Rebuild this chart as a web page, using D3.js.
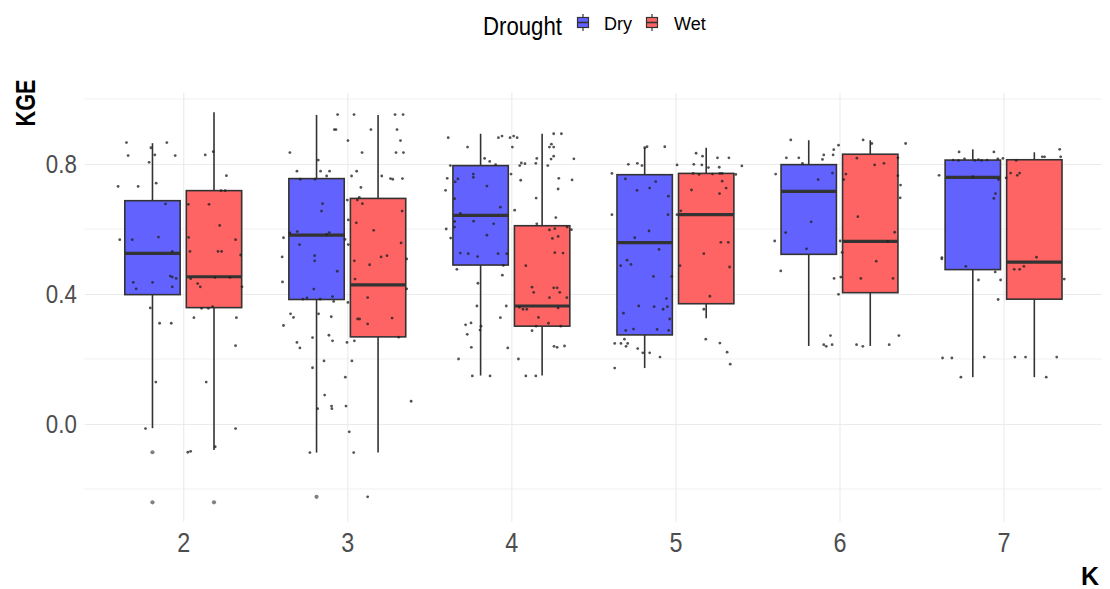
<!DOCTYPE html>
<html>
<head>
<meta charset="utf-8">
<script src="https://cdn.jsdelivr.net/npm/d3@7"></script>
<style>
  html, body { margin: 0; padding: 0; background: #ffffff; }
  svg { display: block; font-family: "Liberation Sans", Arial, sans-serif; }
</style>
</head>
<body>
<svg id="chart" width="1110" height="589"></svg>
<script>
// ---------------- DATA ----------------
const categories = ["2", "3", "4", "5", "6", "7"];
const groups = ["Dry", "Wet"];
const yTicks = [0.0, 0.4, 0.8];
const yMinorTicks = [-0.2, 0.2, 0.6, 1.0];

// [lower whisker, Q1, median, Q3, upper whisker]
const dryStats = [
  [-0.013, 0.398, 0.525, 0.687, 0.864],
  [-0.088, 0.383, 0.581, 0.755, 0.951],
  [0.149, 0.489, 0.642, 0.795, 0.893],
  [0.172, 0.274, 0.558, 0.767, 0.850],
  [0.240, 0.522, 0.716, 0.798, 0.873],
  [0.144, 0.475, 0.759, 0.812, 0.845]
];
const wetStats = [
  [-0.080, 0.358, 0.453, 0.718, 0.959],
  [-0.088, 0.268, 0.428, 0.694, 0.951],
  [0.149, 0.301, 0.363, 0.610, 0.893],
  [0.325, 0.370, 0.644, 0.771, 0.850],
  [0.240, 0.404, 0.562, 0.830, 0.873],
  [0.144, 0.384, 0.498, 0.813, 0.836]
];
const dryOutliers = [[-0.087, -0.241], [-0.224], [], [], [], []];
const wetOutliers = [[-0.241], [], [], [], [], []];

// jittered observations: [offset from category (in category units), KGE]
const jitterK2 = [[-0.346,0.866],[-0.100,0.866],[-0.197,0.850],[-0.336,0.826],[-0.173,0.828],[-0.049,0.826],[-0.208,0.805],[-0.397,0.731],[-0.275,0.731],[-0.165,0.741],[-0.108,0.677],[-0.387,0.567],[-0.311,0.567],[-0.151,0.575],[-0.067,0.531],[-0.079,0.455],[-0.067,0.452],[-0.043,0.448],[-0.305,0.436],[-0.287,0.416],[-0.187,0.436],[-0.067,0.422],[-0.201,0.357],[-0.144,0.310],[-0.073,0.310],[-0.167,0.129],[-0.230,-0.014],
  [0.134,0.828],[0.183,0.838],[0.263,0.764],[0.230,0.718],[0.256,0.718],[0.031,0.676],[0.157,0.676],[0.222,0.611],[0.033,0.574],[0.319,0.567],[0.041,0.531],[0.212,0.531],[0.234,0.531],[0.350,0.520],[0.045,0.447],[0.193,0.451],[0.285,0.451],[0.088,0.432],[0.104,0.422],[0.358,0.422],[0.112,0.356],[0.153,0.356],[0.179,0.361],[0.065,0.327],[0.324,0.327],[0.319,0.241],[0.140,0.129],[0.319,-0.014],[0.028,-0.087],[0.045,-0.084],[0.195,-0.070]];
const jitterK3 = [[-0.059,0.952],[0.041,0.952],[0.291,0.952],[0.340,0.952],[-0.079,0.906],[-0.069,0.906],[0.144,0.906],[0.303,0.906],[0.004,0.872],[0.324,0.872],[-0.350,0.835],[0.090,0.835],[0.297,0.835],[0.342,0.835],[-0.177,0.812],[-0.307,0.778],[-0.163,0.778],[-0.108,0.778],[0.057,0.778],[-0.126,0.763],[0.026,0.763],[0.210,0.763],[0.263,0.755],[0.277,0.753],[0.336,0.755],[-0.287,0.753],[-0.197,0.753],[0.083,0.728],[0.000,0.689],[0.061,0.689],[0.073,0.697],[0.092,0.678],[-0.151,0.678],[-0.157,0.655],[0.334,0.655],[0.055,0.619],[0.161,0.596],[0.006,0.628],[-0.389,0.573],[-0.350,0.588],[-0.305,0.592],[-0.110,0.589],[-0.126,0.583],[-0.014,0.568],[-0.291,0.552],[0.006,0.552],[0.328,0.557],[-0.397,0.514],[-0.199,0.518],[-0.199,0.502],[0.242,0.518],[0.206,0.514],[0.043,0.502],[0.362,0.508],[0.136,0.490],[-0.061,0.470],[-0.395,0.437],[0.047,0.446],[-0.204,0.415],[0.362,0.416],[-0.271,0.384],[-0.246,0.388],[-0.165,0.384],[-0.090,0.392],[-0.083,0.377],[0.124,0.389],[0.004,0.374],[-0.346,0.339],[-0.175,0.339],[-0.328,0.328],[-0.098,0.330],[-0.389,0.303],[0.063,0.323],[0.075,0.323],[0.273,0.326],[0.124,0.308],[-0.212,0.266],[-0.112,0.273],[-0.090,0.256],[-0.307,0.251],[-0.289,0.234],[-0.002,0.251],[0.043,0.256],[0.313,0.267],[-0.142,0.194],[0.028,0.194],[-0.212,0.173],[-0.012,0.144],[-0.138,0.089],[0.389,0.070],[-0.181,0.047],[-0.096,0.055],[-0.094,0.047],[-0.008,0.055],[0.012,-0.024],[-0.228,-0.088],[0.039,-0.088],[0.124,-0.224]];
const jitterK4 = [[-0.385,0.881],[-0.267,0.852],[-0.079,0.881],[-0.057,0.886],[-0.008,0.881],[0.014,0.886],[0.035,0.881],[0.006,0.852],[0.258,0.893],[0.305,0.893],[0.232,0.852],[0.244,0.861],[0.258,0.852],[-0.163,0.817],[-0.132,0.808],[-0.096,0.798],[-0.372,0.795],[0.051,0.795],[0.061,0.803],[0.083,0.801],[0.149,0.802],[0.155,0.817],[0.222,0.795],[0.242,0.815],[0.258,0.824],[0.381,0.816],[-0.002,0.769],[0.057,0.750],[-0.391,0.756],[-0.342,0.745],[-0.326,0.754],[-0.232,0.769],[-0.232,0.759],[0.289,0.756],[0.370,0.751],[-0.401,0.719],[0.285,0.723],[-0.149,0.732],[-0.346,0.693],[0.151,0.695],[-0.067,0.667],[0.020,0.658],[-0.311,0.648],[-0.346,0.623],[-0.346,0.606],[-0.230,0.624],[-0.108,0.616],[-0.397,0.600],[-0.370,0.572],[-0.149,0.581],[0.271,0.635],[0.155,0.616],[0.232,0.597],[0.265,0.601],[0.250,0.571],[0.285,0.577],[0.340,0.606],[0.366,0.598],[-0.311,0.526],[-0.263,0.524],[-0.206,0.515],[-0.081,0.524],[-0.028,0.524],[-0.049,0.488],[0.088,0.487],[-0.332,0.476],[-0.055,0.458],[-0.204,0.433],[0.265,0.527],[0.315,0.526],[0.126,0.421],[0.136,0.405],[0.258,0.419],[0.279,0.419],[0.295,0.405],[0.232,0.389],[0.338,0.389],[-0.210,0.363],[-0.031,0.363],[0.049,0.359],[0.071,0.353],[0.094,0.353],[0.285,0.357],[-0.067,0.327],[0.165,0.328],[-0.279,0.305],[-0.246,0.311],[-0.269,0.276],[-0.185,0.301],[-0.191,0.289],[0.226,0.310],[0.151,0.301],[0.301,0.301],[0.126,0.287],[-0.244,0.236],[-0.022,0.234],[0.260,0.239],[0.279,0.236],[0.324,0.240],[-0.322,0.200],[0.043,0.200],[-0.238,0.148],[-0.130,0.148],[0.088,0.148],[0.149,0.148]];
const jitterK5 = [[-0.187,0.850],[-0.173,0.853],[-0.065,0.853],[-0.287,0.799],[-0.232,0.802],[-0.204,0.795],[0.010,0.797],[-0.387,0.771],[-0.305,0.754],[-0.234,0.719],[-0.157,0.726],[-0.120,0.746],[-0.043,0.701],[-0.387,0.644],[-0.045,0.644],[-0.248,0.573],[-0.161,0.594],[-0.100,0.537],[-0.334,0.487],[-0.295,0.504],[-0.271,0.491],[-0.134,0.454],[-0.022,0.454],[-0.055,0.386],[-0.224,0.363],[-0.130,0.361],[-0.075,0.353],[-0.049,0.361],[-0.317,0.341],[-0.035,0.323],[-0.303,0.288],[-0.256,0.292],[-0.112,0.291],[-0.041,0.288],[-0.370,0.248],[-0.332,0.248],[-0.311,0.261],[-0.291,0.248],[-0.301,0.239],[-0.230,0.232],[-0.199,0.219],[-0.157,0.219],[-0.094,0.206],[-0.370,0.172],
  [0.126,0.833],[0.165,0.824],[0.256,0.819],[0.326,0.819],[0.112,0.799],[0.161,0.797],[0.201,0.789],[0.267,0.790],[0.405,0.794],[0.108,0.771],[0.144,0.768],[0.226,0.769],[0.271,0.771],[0.285,0.771],[0.368,0.768],[0.285,0.747],[0.098,0.720],[0.309,0.726],[0.269,0.709],[0.033,0.656],[0.010,0.644],[0.277,0.559],[0.322,0.559],[0.173,0.524],[0.028,0.487],[0.330,0.483],[0.210,0.393],[0.173,0.353],[0.185,0.261],[0.271,0.249],[0.315,0.221],[0.334,0.184]];
const jitterK6 = [[-0.297,0.874],[-0.324,0.819],[-0.248,0.819],[-0.226,0.802],[-0.104,0.814],[-0.096,0.828],[-0.039,0.828],[-0.035,0.844],[-0.006,0.858],[-0.389,0.769],[-0.043,0.772],[-0.130,0.752],[-0.173,0.622],[-0.328,0.589],[-0.395,0.563],[-0.201,0.539],[-0.358,0.471],[-0.033,0.448],[0.008,0.452],[-0.006,0.399],[0.004,0.563],[0.016,0.528],[-0.055,0.272],[-0.096,0.244],[-0.081,0.239],[-0.045,0.244],
  [0.144,0.874],[0.197,0.863],[0.403,0.863],[0.106,0.818],[0.214,0.797],[0.271,0.802],[0.356,0.819],[0.039,0.769],[0.026,0.752],[0.356,0.764],[0.372,0.735],[0.370,0.696],[0.112,0.638],[0.336,0.590],[0.293,0.562],[0.224,0.501],[0.130,0.448],[0.326,0.448],[0.104,0.244],[0.142,0.239],[0.303,0.244],[0.362,0.272]];
const jitterK7 = [[-0.271,0.837],[-0.059,0.837],[-0.307,0.812],[-0.275,0.811],[-0.238,0.816],[-0.175,0.811],[-0.153,0.813],[-0.134,0.811],[-0.100,0.812],[-0.035,0.816],[-0.004,0.817],[-0.393,0.765],[-0.187,0.761],[-0.031,0.752],[-0.049,0.709],[-0.059,0.694],[-0.376,0.512],[-0.376,0.508],[-0.230,0.485],[-0.051,0.468],[-0.153,0.443],[-0.018,0.443],[-0.033,0.383],[-0.372,0.203],[-0.315,0.203],[-0.118,0.206],[-0.260,0.144],
  [0.342,0.845],[0.236,0.822],[0.250,0.822],[0.348,0.822],[0.077,0.811],[0.016,0.757],[0.043,0.772],[0.084,0.765],[0.098,0.772],[0.201,0.513],[0.065,0.476],[0.098,0.476],[0.124,0.485],[0.370,0.446],[0.069,0.206],[0.134,0.206],[0.324,0.206],[0.260,0.144]];
const jitterByCategory = [jitterK2, jitterK3, jitterK4, jitterK5, jitterK6, jitterK7];

// ---------------- LAYOUT / STYLE ----------------
const colors = { Dry: "#6262ff", Wet: "#ff6464" };
const panel = { left: 84.8, right: 1102, top: 92.8, bottom: 521.8 };
const svg = d3.select("#chart");

const x = d3.scalePoint().domain(categories).range([panel.left, panel.right]).padding(0.6);
const step = x.step();
const y = d3.scaleLinear().domain([-0.301, 1.019]).range([panel.bottom, panel.top]);
const dodge = d3.scaleBand().domain(groups).range([-0.375 * step, 0.375 * step]);
const boxW = 0.3375 * step;
const gcenter = (cat, g) => x(cat) + dodge(g) + dodge.bandwidth() / 2;

// grid
const grid = svg.append("g");
grid.selectAll("line.minor").data(yMinorTicks).join("line")
  .attr("x1", panel.left).attr("x2", panel.right)
  .attr("y1", d => y(d)).attr("y2", d => y(d))
  .attr("stroke", "#ebebeb").attr("stroke-width", 0.8);
grid.append("g").attr("transform", `translate(${panel.left},0)`)
  .call(d3.axisLeft(y).tickValues(yTicks).tickSize(-(panel.right - panel.left)).tickFormat(""))
  .call(g => g.select(".domain").remove())
  .call(g => g.selectAll("line").attr("stroke", "#ebebeb").attr("stroke-width", 1.1));
grid.append("g").attr("transform", `translate(0,${panel.bottom})`)
  .call(d3.axisBottom(x).tickSize(-(panel.bottom - panel.top)).tickFormat(""))
  .call(g => g.select(".domain").remove())
  .call(g => g.selectAll("line").attr("stroke", "#ebebeb").attr("stroke-width", 1.1));

// boxes
const statsByGroup = { Dry: dryStats, Wet: wetStats };
const outByGroup = { Dry: dryOutliers, Wet: wetOutliers };
const boxes = svg.append("g");
groups.forEach(g => {
  categories.forEach((cat, i) => {
    const [lw, q1, med, q3, uw] = statsByGroup[g][i];
    const cx = gcenter(cat, g);
    const bg = boxes.append("g");
    bg.append("line").attr("x1", cx).attr("x2", cx).attr("y1", y(uw)).attr("y2", y(q3))
      .attr("stroke", "#333333").attr("stroke-width", 1.6);
    bg.append("line").attr("x1", cx).attr("x2", cx).attr("y1", y(q1)).attr("y2", y(lw))
      .attr("stroke", "#333333").attr("stroke-width", 1.6);
    bg.append("rect").attr("x", cx - boxW / 2).attr("width", boxW)
      .attr("y", y(q3)).attr("height", y(q1) - y(q3))
      .attr("fill", colors[g]).attr("stroke", "#333333").attr("stroke-width", 1.6);
    bg.append("line").attr("x1", cx - boxW / 2).attr("x2", cx + boxW / 2)
      .attr("y1", y(med)).attr("y2", y(med))
      .attr("stroke", "#333333").attr("stroke-width", 3.2);
    bg.selectAll("circle").data(outByGroup[g][i]).join("circle")
      .attr("cx", cx).attr("cy", d => y(d)).attr("r", 2.1)
      .attr("fill", "#555555").attr("fill-opacity", 0.75);
  });
});

// jittered points
const pts = svg.append("g");
categories.forEach((cat, i) => {
  pts.selectAll(null).data(jitterByCategory[i]).join("circle")
    .attr("cx", d => x(cat) + d[0] * step)
    .attr("cy", d => y(d[1]))
    .attr("r", 1.4)
    .attr("fill", "#222222").attr("fill-opacity", 0.78);
});

// axes labels
svg.append("g").attr("transform", `translate(${panel.left},0)`)
  .call(d3.axisLeft(y).tickValues(yTicks).tickSize(0).tickPadding(8).tickFormat(d3.format(".1f")))
  .call(g => g.select(".domain").remove())
  .call(g => g.selectAll("text").attr("fill", "#4d4d4d").style("font-size", "26px")
      .attr("font-family", "Liberation Sans, Arial, sans-serif")
      .attr("textLength", 31).attr("lengthAdjust", "spacingAndGlyphs"));
svg.append("g").attr("transform", `translate(0,${panel.bottom})`)
  .call(d3.axisBottom(x).tickSize(0).tickPadding(11))
  .call(g => g.select(".domain").remove())
  .call(g => g.selectAll("text").attr("fill", "#4d4d4d").style("font-size", "27px")
      .attr("font-family", "Liberation Sans, Arial, sans-serif")
      .attr("textLength", 13).attr("lengthAdjust", "spacingAndGlyphs"));

svg.append("text").attr("transform", "translate(35,103) rotate(-90)")
  .attr("text-anchor", "middle").attr("font-weight", "bold").style("font-size", "27px")
  .attr("fill", "#000").attr("textLength", 47).attr("lengthAdjust", "spacingAndGlyphs").text("KGE");
svg.append("text").attr("x", 1099).attr("y", 585).attr("text-anchor", "end")
  .attr("font-weight", "bold").style("font-size", "25px").attr("fill", "#000").text("K");

// legend
const leg = svg.append("g");
leg.append("text").attr("x", 483).attr("y", 34.5).style("font-size", "25px")
  .attr("textLength", 79).attr("lengthAdjust", "spacingAndGlyphs").attr("fill", "#000").text("Drought");
const legendItems = [
  { g: "Dry", kx: 583, tx: 604 },
  { g: "Wet", kx: 652, tx: 674 }
];
legendItems.forEach(it => {
  const k = leg.append("g");
  k.append("line").attr("x1", it.kx).attr("x2", it.kx).attr("y1", 14).attr("y2", 31)
    .attr("stroke", "#333").attr("stroke-width", 1.2);
  k.append("rect").attr("x", it.kx - 5.5).attr("y", 17.5).attr("width", 11).attr("height", 10)
    .attr("fill", colors[it.g]).attr("stroke", "#333").attr("stroke-width", 1.2);
  k.append("line").attr("x1", it.kx - 5.5).attr("x2", it.kx + 5.5).attr("y1", 22.5).attr("y2", 22.5)
    .attr("stroke", "#333").attr("stroke-width", 1.6);
  leg.append("text").attr("x", it.tx).attr("y", 29.5).style("font-size", "18px").attr("fill", "#000").text(it.g);
});
</script>
</body>
</html>
